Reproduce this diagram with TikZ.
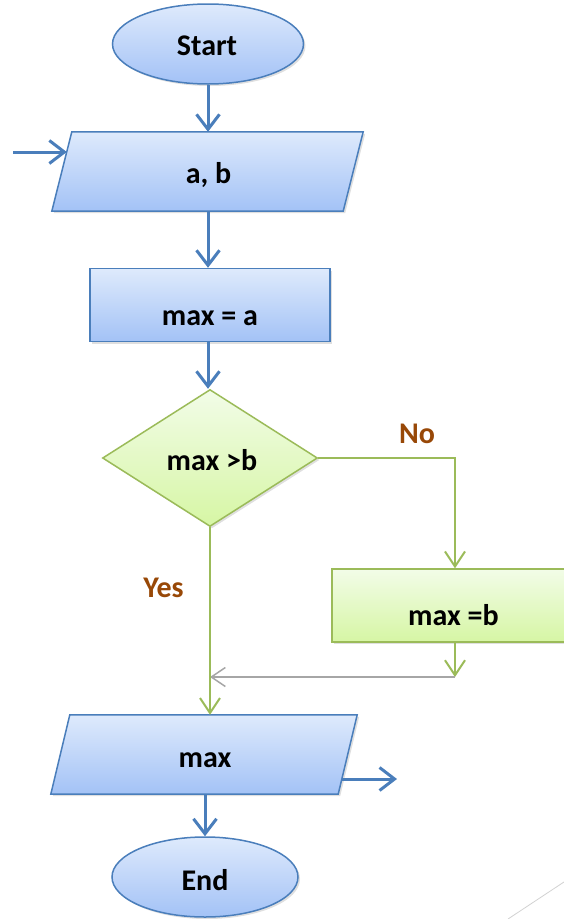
\documentclass[tikz,border=0pt]{standalone}
\usepackage{fontspec}
\setmainfont{Carlito}
\usetikzlibrary{shapes.geometric,arrows.meta,backgrounds,shadows}
\definecolor{bdraw}{HTML}{4A7EBB}
\definecolor{btop}{HTML}{DEEAFC}
\definecolor{bbot}{HTML}{A3C2F6}
\definecolor{gdraw}{HTML}{9BBB59}
\definecolor{gtop}{HTML}{F2FCE8}
\definecolor{gbot}{HTML}{D6F6A4}
\definecolor{lblc}{HTML}{984807}
\definecolor{grayc}{HTML}{A6A6A6}
\tikzset{
  txt/.style={font=\fontsize{30}{34}\selectfont\bfseries, inner sep=0pt, anchor=base},
  shd/.style={drop shadow={opacity=0.25, shadow xshift=2pt, shadow yshift=-2pt}},
  blueshape/.style={draw=bdraw, line width=1.5pt, top color=btop, bottom color=bbot, shd, inner sep=0pt},
  greenshape/.style={draw=gdraw, line width=1.5pt, top color=gtop, bottom color=gbot, shd, inner sep=0pt},
  barrow/.style={draw=bdraw, line width=3pt, -{Straight Barb[length=15pt,width=23pt]}},
  garrow/.style={draw=gdraw, line width=2pt, -{Straight Barb[length=15pt,width=20pt]}},
  grarrow/.style={draw=grayc, line width=1.5pt, -{Straight Barb[length=14pt,width=19pt]}},
  lbl/.style={txt, text=lblc},
}
\begin{document}
\begin{tikzpicture}[x=1pt,y=-1pt]
\useasboundingbox (0,0) rectangle (564,919);
% shapes
\node[ellipse, blueshape, minimum width=191pt, minimum height=80pt] (st) at (208,44) {};
\node[inner sep=0pt, minimum width=311pt, minimum height=79pt] (ab) at (207.5,171.5) {};
\node[rectangle, blueshape, minimum width=240pt, minimum height=73pt] (ma) at (210,305) {};
\node[diamond, greenshape, minimum width=215pt, minimum height=137pt] (d) at (210,458) {};
\node[rectangle, greenshape, minimum width=246pt, minimum height=73pt] (mb) at (455,605.5) {};
\node[inner sep=0pt, minimum width=306pt, minimum height=79pt] (mx) at (204,754.5) {};
\node[ellipse, blueshape, minimum width=186pt, minimum height=80pt] (en) at (205,877) {};
% parallelograms
\begin{scope}[on background layer]
\path[blueshape] (ab.south west) -- ([xshift=20pt]ab.north west) -- (ab.north east) -- ([xshift=-20pt]ab.south east) -- cycle;
\path[blueshape] (mx.south west) -- ([xshift=19pt]mx.north west) -- (mx.north east) -- ([xshift=-19pt]mx.south east) -- cycle;
\end{scope}
% texts
\node[txt] (tst) at (207,55) {Start};
\node[txt] (tab) at (208.5,183) {a, b};
\node[txt] (tma) at (210,325) {max = a};
\node[txt] (td) at (212,470) {max >b};
\node[txt] (tmb) at (453.5,625) {max =b};
\node[txt] (tmx) at (205,767) {max};
\node[txt] (ten) at (205,890) {End};
\node[lbl] (no) at (417,443) {No};
\node[lbl] (yes) at (163.5,597) {Yes};
% free ends
\coordinate (in) at (13,152);
\coordinate (out) at (397,779);
\coordinate (j) at (455,677);
% connectors
\draw[barrow] (st.south) -- (st.south |- ab.north);
\draw[barrow] (in) -- ([shift={(15,-19.5)}]ab.west);
\draw[barrow] (ab.south -| st.south) -- (st.south |- ma.north);
\draw[barrow] (ma.south -| st.south) -- (st.south |- d.north);
\draw[garrow] (d.east) -- (d.east -| mb.north) -- (mb.north);
\draw[garrow] (mb.south) -- (j);
\draw[grarrow] (j) -- (j -| d.south);
\draw[garrow] (d.south) -- (d.south |- mx.north);
\draw[barrow] ([shift={(-15,24.5)}]mx.east) -- (out);
\draw[barrow] (mx.south -| en.north) -- (en.north);
% slide decoration
\draw[gray!35, line width=0.8pt] (508,919) -- (570,878);
\end{tikzpicture}
\end{document}
